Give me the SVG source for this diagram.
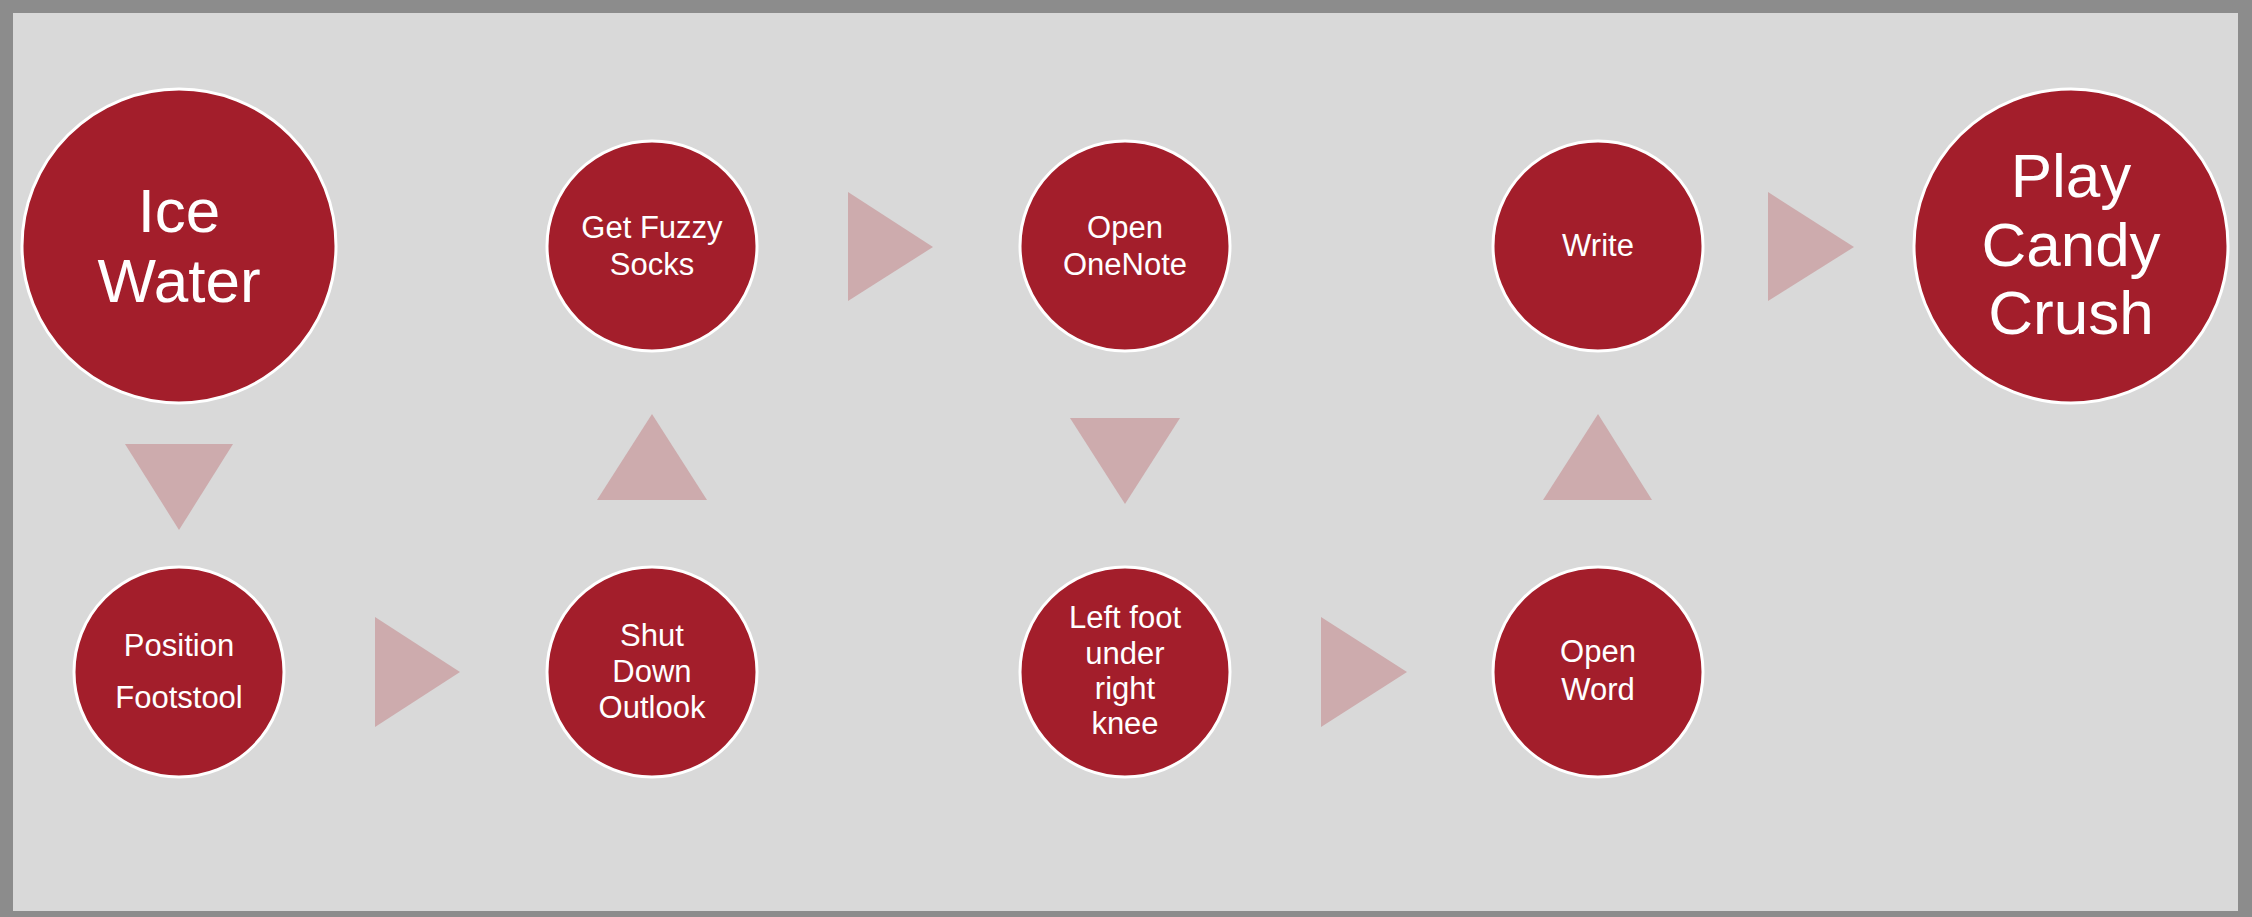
<svg xmlns="http://www.w3.org/2000/svg" width="2252" height="917" viewBox="0 0 2252 917">
<style>
.node circle{fill:#a31e2b;stroke:#ffffff;stroke-width:3}
.node text{fill:#ffffff;font-family:"Liberation Sans",Arial,sans-serif;text-anchor:middle}
.s{font-size:31px}
.l{font-size:62px}
.arr polygon{fill:#cdabad}
</style>
<rect x="0" y="0" width="2252" height="917" fill="#8c8c8c"/>
<rect x="13" y="13" width="2225" height="898" fill="#d9d9d9"/>
<g id="connectors" class="arr">
<polygon points="125,444 233,444 179,530"/>
<polygon points="375,617 460,672 375,727"/>
<polygon points="652,414 707,500 597,500"/>
<polygon points="848,192 933,247 848,301"/>
<polygon points="1070,418 1180,418 1125,504"/>
<polygon points="1321,617 1407,672 1321,727"/>
<polygon points="1598,414 1652,500 1543,500"/>
<polygon points="1768,192 1854,247 1768,301"/>
</g>
<g id="ice-water" class="node">
<circle cx="179" cy="246" r="157"/>
<text class="l" x="179" y="232">Ice</text>
<text class="l" x="179" y="302">Water</text>
</g>
<g id="position-footstool" class="node">
<circle cx="179" cy="672" r="105"/>
<text class="s" x="179" y="656">Position</text>
<text class="s" x="179" y="708">Footstool</text>
</g>
<g id="shut-down-outlook" class="node">
<circle cx="652" cy="672" r="105"/>
<text class="s" x="652" y="646">Shut</text>
<text class="s" x="652" y="682">Down</text>
<text class="s" x="652" y="718">Outlook</text>
</g>
<g id="get-fuzzy-socks" class="node">
<circle cx="652" cy="246" r="105"/>
<text class="s" x="652" y="238">Get Fuzzy</text>
<text class="s" x="652" y="275">Socks</text>
</g>
<g id="open-onenote" class="node">
<circle cx="1125" cy="246" r="105"/>
<text class="s" x="1125" y="238">Open</text>
<text class="s" x="1125" y="275">OneNote</text>
</g>
<g id="left-foot" class="node">
<circle cx="1125" cy="672" r="105"/>
<text class="s" x="1125" y="628">Left foot</text>
<text class="s" x="1125" y="664">under</text>
<text class="s" x="1125" y="699">right</text>
<text class="s" x="1125" y="734">knee</text>
</g>
<g id="open-word" class="node">
<circle cx="1598" cy="672" r="105"/>
<text class="s" x="1598" y="662">Open</text>
<text class="s" x="1598" y="700">Word</text>
</g>
<g id="write" class="node">
<circle cx="1598" cy="246" r="105"/>
<text class="s" x="1598" y="256">Write</text>
</g>
<g id="play-candy-crush" class="node">
<circle cx="2071" cy="246" r="157"/>
<text class="l" x="2071" y="197">Play</text>
<text class="l" x="2071" y="266">Candy</text>
<text class="l" x="2071" y="334">Crush</text>
</g>
</svg>
